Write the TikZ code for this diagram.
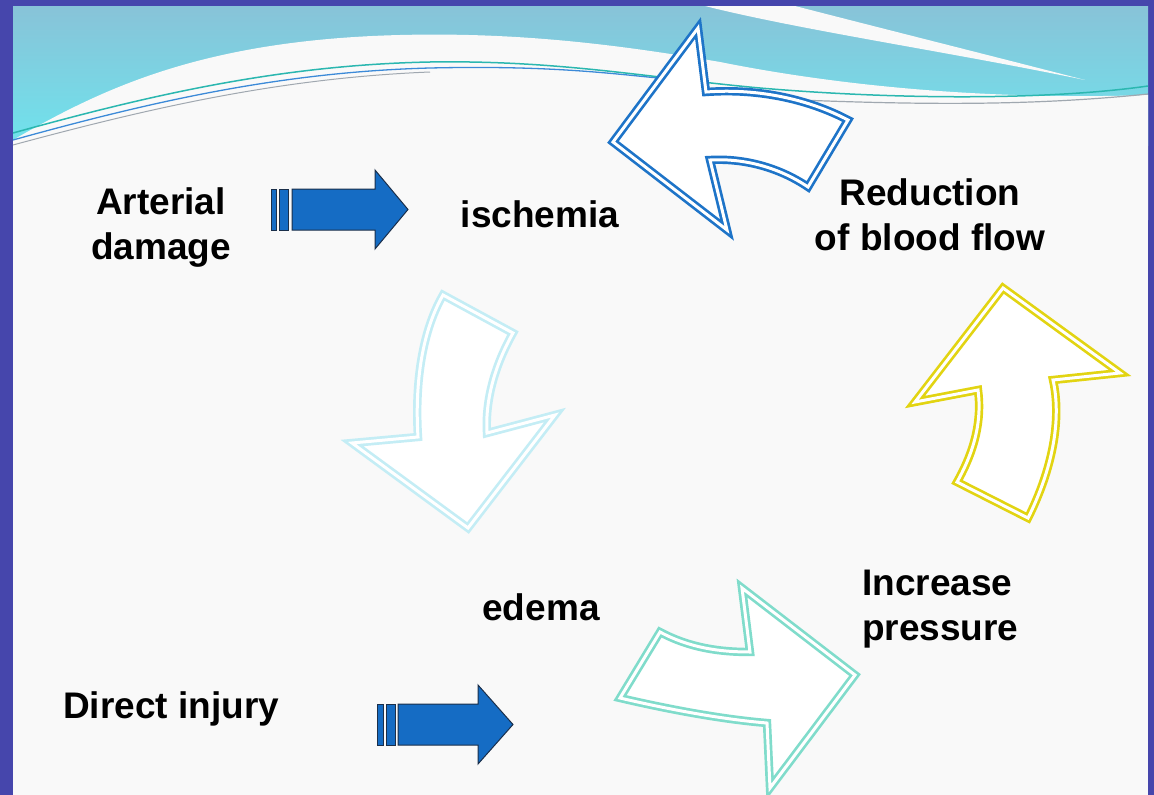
\documentclass[tikz,border=0pt]{standalone}
\usepackage{fontspec}
\setmainfont{Liberation Sans}
\definecolor{frame}{HTML}{4646AC}
\definecolor{panel}{HTML}{F9F9F9}
\definecolor{skytop}{HTML}{88C3D8}
\definecolor{skybot}{HTML}{6FE3ED}
\definecolor{arrblue}{HTML}{1E74C8}
\definecolor{arrcyan}{HTML}{C4EDF5}
\definecolor{arryel}{HTML}{E2D412}
\definecolor{arrteal}{HTML}{80DCCB}
\definecolor{blockfill}{HTML}{156CC4}
\definecolor{blockline}{HTML}{1B2F4A}
\definecolor{lineteal}{HTML}{2BB7B0}
\definecolor{lineblue}{HTML}{3C8AD8}
\definecolor{linegrey}{HTML}{A0A8B0}
\begin{document}
\begin{tikzpicture}[x=1pt,y=-1pt,
  lbl/.style={font=\bfseries\fontsize{37}{45}\selectfont, inner sep=0pt, text=black},
  curvy/.style={draw=#1, double=white, line width=2.7pt, double distance=3pt, fill=white, line join=miter},
  block/.style={draw=blockline, line width=1pt, fill=blockfill, line join=miter}]
\useasboundingbox (0,0) rectangle (1154,795);
% frame and panel
\fill[frame] (0,0) rectangle (1154,795);
\fill[panel] (13,6) rectangle (1148,795);
% sky band
\shade[top color=skytop, bottom color=skybot] (13,6) rectangle (1148,145);
% white streak
\fill[panel] (705,6) -- (795,6) .. controls (900,33) and (1000,58) .. (1085,80)
  .. controls (950,52) and (800,30) .. (705,6) -- cycle;
% white lower region
\fill[panel] (13,140) .. controls (100,90) and (200,40) .. (400,35)
  .. controls (520,32) and (620,45) .. (720,62)
  .. controls (850,88) and (1000,100) .. (1148,95) -- (1148,220) -- (13,220) -- cycle;
% thin lines
\draw[linegrey, line width=1pt] (13,145) .. controls (150,108) and (280,78) .. (430,72);
\draw[linegrey, line width=1.2pt] (800,100) .. controls (950,106) and (1050,104) .. (1148,94);
\draw[lineblue, line width=1.3pt] (13,140) .. controls (150,102) and (280,72) .. (430,68)
  .. controls (560,65) and (620,75) .. (680,80);
\draw[lineteal, line width=1.5pt] (13,133) .. controls (150,95) and (280,65) .. (430,62)
  .. controls (560,60) and (650,78) .. (760,88)
  .. controls (900,100) and (1050,100) .. (1148,86);
% curved cycle arrows
\draw[curvy=arrblue] (613,142) -- (698,28) -- (706,92)
  .. controls (760,88) and (810,100) .. (848,120) -- (808,187)
  .. controls (780,168) and (745,158) .. (710,160) -- (727,230) -- cycle;
\draw[curvy=arrcyan] (513,333) .. controls (495,365) and (485,400) .. (487,433)
  -- (555,415) -- (468,528) -- (352,443) -- (418,437)
  .. controls (415,390) and (420,335) .. (443,295) -- cycle;
\draw[curvy=arryel] (1003,288) -- (1120,373) -- (1053,380)
  .. controls (1062,420) and (1052,470) .. (1028,518) -- (957,482)
  .. controls (975,450) and (982,420) .. (978,390) -- (915,402) -- cycle;
\draw[curvy=arrteal] (660,632) .. controls (690,648) and (720,652) .. (750,652)
  -- (742,588) -- (855,675) -- (770,788) -- (767,723)
  .. controls (730,720) and (680,712) .. (620,698) -- cycle;
% striped block arrows
\draw[block] (271,189) rectangle (276,230);
\draw[block] (279,189) rectangle (288,230);
\draw[block] (292,189) -- (375,189) -- (375,170) -- (408,209.5) -- (375,249) -- (375,230) -- (292,230) -- cycle;
\draw[block] (377,704) rectangle (383,745);
\draw[block] (386,704) rectangle (395,745);
\draw[block] (398,704) -- (478,704) -- (478,685) -- (513,724.5) -- (478,764) -- (478,745) -- (398,745) -- cycle;
% labels (anchor=base of a two-line node is the last line's baseline)
\node[lbl, align=center, anchor=base] (art) at (161,259) {Arterial\\damage};
\node[lbl, anchor=base] (isc) at (540,227) {ischemia};
\node[lbl, align=center, anchor=base] (red) at (930,250) {Reduction\\of blood flow};
\node[lbl, anchor=base] (ede) at (541,620) {edema};
\node[lbl, align=left, anchor=base west] (inc) at (862,640) {Increase\\pressure};
\node[lbl, anchor=base west] (dir) at (63,718) {Direct injury};
\end{tikzpicture}
\end{document}
